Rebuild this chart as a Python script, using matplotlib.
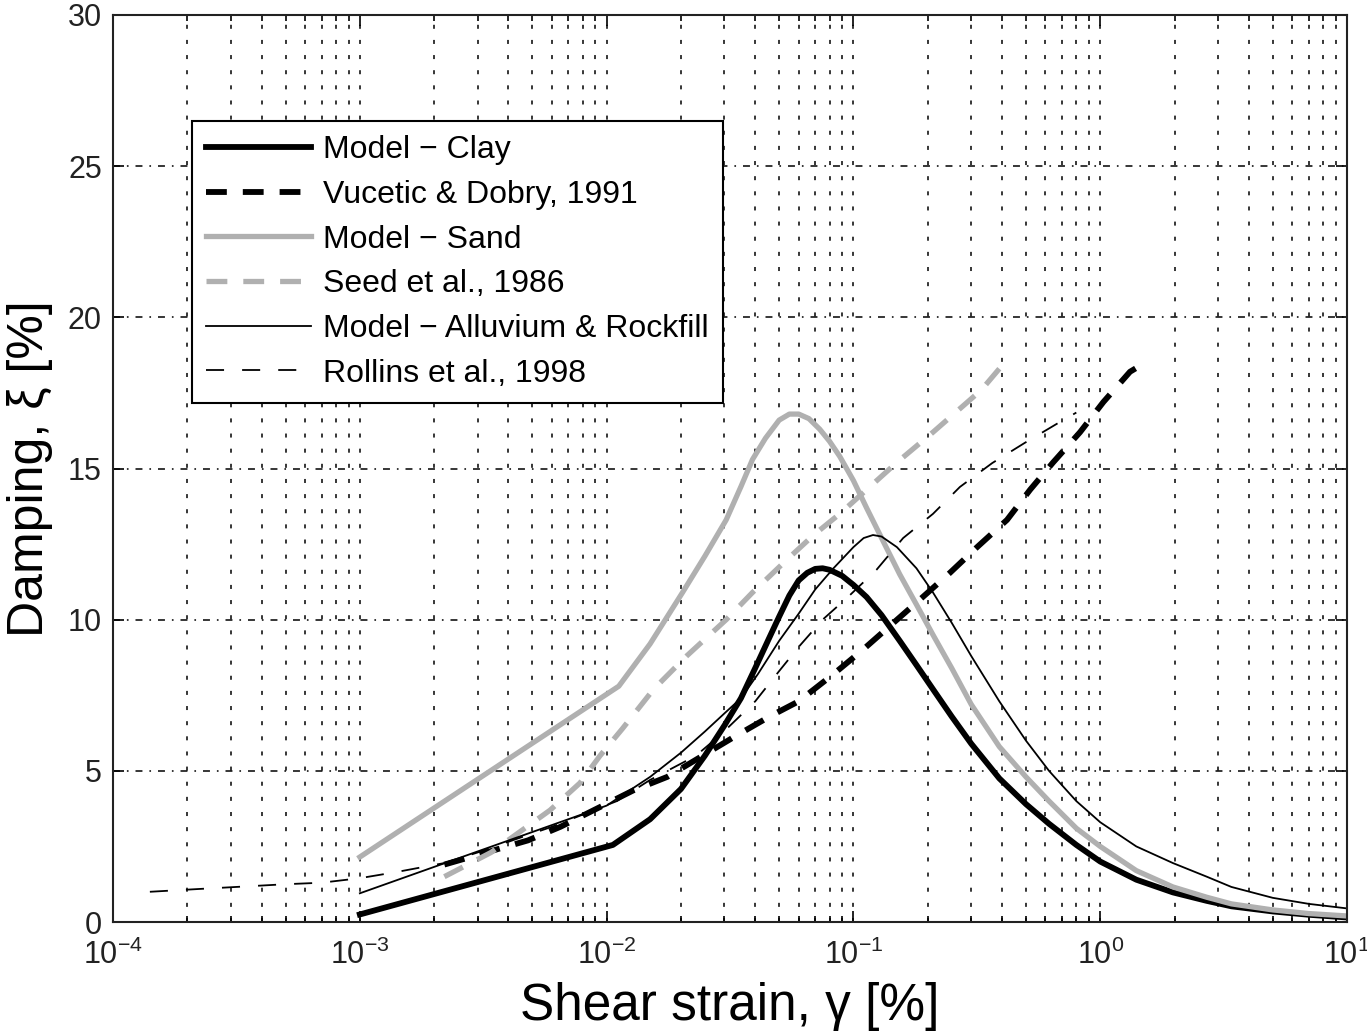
import matplotlib
matplotlib.use("Agg")
import matplotlib.pyplot as plt
from matplotlib.ticker import LogLocator, FixedLocator, NullFormatter

plt.rcParams['font.family'] = ['Liberation Sans', 'DejaVu Sans']
plt.rcParams['mathtext.fontset'] = 'custom'
plt.rcParams['mathtext.rm'] = 'Liberation Sans'
plt.rcParams['mathtext.it'] = 'Liberation Sans:italic'
plt.rcParams['lines.scale_dashes'] = False

# ---------------- data ----------------
clay_x = [0.001, 0.0106, 0.015, 0.02, 0.025, 0.03, 0.035, 0.04, 0.045, 0.05, 0.055,
          0.06, 0.065, 0.07, 0.075, 0.08, 0.09, 0.1, 0.113, 0.13, 0.154, 0.18, 0.21,
          0.25, 0.3, 0.39, 0.5, 0.62, 0.8, 1.0, 1.4, 1.97, 2.7, 3.4, 5.0, 7.0, 10.0]
clay_y = [0.25, 2.55, 3.4, 4.4, 5.5, 6.5, 7.4, 8.4, 9.3, 10.1, 10.8,
          11.3, 11.55, 11.68, 11.7, 11.65, 11.45, 11.15, 10.75, 10.15, 9.3, 8.5, 7.7,
          6.8, 5.9, 4.75, 3.9, 3.25, 2.55, 2.0, 1.4, 0.98, 0.7, 0.52, 0.35, 0.24, 0.15]

vd_x = [0.0022, 0.0048, 0.0065, 0.0128, 0.0176, 0.0325, 0.0458, 0.06, 0.083, 0.109,
        0.191, 0.246, 0.317, 0.419, 0.52, 0.644, 0.828, 1.03, 1.32, 1.45]
vd_y = [1.9, 2.7, 3.15, 4.35, 4.8, 6.1, 6.8, 7.3, 8.2, 9.0,
        10.75, 11.55, 12.4, 13.3, 14.3, 15.2, 16.2, 17.2, 18.2, 18.4]

sand_x = [0.001, 0.0112, 0.015, 0.0203, 0.025, 0.0305, 0.035, 0.039, 0.044, 0.05, 0.055,
          0.06, 0.066, 0.073, 0.08, 0.088, 0.1, 0.113, 0.13, 0.154, 0.18, 0.21, 0.25,
          0.3, 0.39, 0.5, 0.62, 0.8, 1.0, 1.4, 1.97, 2.7, 3.4, 5.0, 7.0, 10.0]
sand_y = [2.15, 7.8, 9.2, 10.9, 12.1, 13.3, 14.4, 15.3, 16.0, 16.6, 16.8,
          16.8, 16.65, 16.3, 15.9, 15.4, 14.6, 13.7, 12.7, 11.5, 10.5, 9.5, 8.4,
          7.2, 5.8, 4.8, 4.0, 3.1, 2.5, 1.7, 1.16, 0.82, 0.6, 0.4, 0.28, 0.2]

seed_x = [0.0022, 0.0034, 0.0059, 0.0078, 0.0094, 0.0116, 0.0155, 0.0211, 0.0305,
          0.039, 0.054, 0.069, 0.088, 0.15, 0.21, 0.33, 0.39]
seed_y = [1.5, 2.3, 3.7, 4.6, 5.5, 6.4, 7.7, 8.8, 10.0,
          10.9, 12.0, 12.8, 13.5, 15.2, 16.2, 17.6, 18.3]

allu_x = [0.001, 0.01, 0.015, 0.02, 0.025, 0.03, 0.035, 0.041, 0.05, 0.06, 0.07,
          0.083, 0.1, 0.11, 0.12, 0.13, 0.15, 0.18, 0.21, 0.25, 0.3, 0.39, 0.5,
          0.62, 0.8, 1.0, 1.4, 1.97, 2.7, 3.4, 5.0, 7.0, 10.0]
allu_y = [0.95, 3.85, 4.8, 5.6, 6.3, 6.9, 7.4, 8.2, 9.3, 10.2, 11.0,
          11.7, 12.4, 12.7, 12.8, 12.75, 12.4, 11.7, 10.9, 9.9, 8.8, 7.3, 6.0,
          5.0, 4.0, 3.3, 2.5, 1.95, 1.5, 1.16, 0.8, 0.6, 0.45]

roll_x = [1.41e-4, 2.2e-4, 3e-4, 5e-4, 7e-4, 0.001, 0.0014, 0.0022, 0.003, 0.0045,
          0.006, 0.011, 0.015, 0.023, 0.029, 0.04, 0.05, 0.06, 0.075, 0.095, 0.124,
          0.159, 0.21, 0.27, 0.365, 0.495, 0.674, 0.8]
roll_y = [1.0, 1.09, 1.15, 1.25, 1.3, 1.45, 1.65, 1.95, 2.3, 2.8,
          3.15, 4.0, 4.7, 5.5, 6.2, 7.3, 8.3, 9.1, 10.0, 10.75, 11.65,
          12.7, 13.5, 14.39, 15.18, 15.85, 16.5, 16.85]

labels = ["Model \u2212 Clay", "Vucetic & Dobry, 1991", "Model \u2212 Sand",
          "Seed et al., 1986", "Model \u2212 Alluvium & Rockfill", "Rollins et al., 1998"]
xtick_vals = [1e-4, 1e-3, 1e-2, 1e-1, 1e0, 1e1]
xtick_labels = [r"$10^{-4}$", r"$10^{-3}$", r"$10^{-2}$", r"$10^{-1}$", r"$10^{0}$", r"$10^{1}$"]
ytick_vals = [0, 5, 10, 15, 20, 25, 30]

# ---------------- figure ----------------
fig = plt.figure(figsize=(13.67, 10.34), dpi=100)
ax = fig.add_axes([0.0827, 0.1083, 0.9027, 0.8772])

gray = '#b0b0b0'
thick_dash = (0, (15, 11.5))
thin_dash = (0, (13, 13))

ax.plot(clay_x, clay_y, color='black', lw=4.2, label=labels[0], solid_joinstyle='round')
ax.plot(vd_x, vd_y, color='black', lw=4.2, ls=thick_dash, label=labels[1])
ax.plot(sand_x, sand_y, color=gray, lw=3.8, label=labels[2], solid_joinstyle='round')
ax.plot(seed_x, seed_y, color=gray, lw=3.8, ls=thick_dash, label=labels[3])
ax.plot(allu_x, allu_y, color='black', lw=1.3, label=labels[4], solid_joinstyle='round')
ax.plot(roll_x, roll_y, color='black', lw=1.3, ls=thin_dash, label=labels[5])

ax.set_xscale('log')
ax.set_xlim(1e-4, 1e1)
ax.set_ylim(0, 30)
ax.xaxis.set_major_locator(FixedLocator(xtick_vals))
ax.set_xticklabels(xtick_labels)
ax.xaxis.set_minor_locator(LogLocator(base=10, subs=range(2, 10), numticks=20))
ax.xaxis.set_minor_formatter(NullFormatter())
ax.set_yticks(ytick_vals)
ax.set_yticklabels([str(v) for v in ytick_vals])

ax.tick_params(which='both', direction='in', top=True, right=True, colors='black',
               labelcolor='#222222', labelsize=22, width=1.2)
ax.tick_params(which='major', length=8)
ax.tick_params(which='minor', length=4)
ax.tick_params(axis='x', which='major', pad=13)
ax.tick_params(axis='y', which='major', pad=8)

ax.grid(True, which='both', axis='x', color='black', lw=1.1, ls=(0, (2.9, 8)))
ax.grid(True, which='major', axis='y', color='black', lw=1.1, ls=(0, (5, 5, 1.2, 5)))
ax.set_axisbelow(True)

for s in ax.spines.values():
    s.set_linewidth(1.5)
    s.set_color('#222222')

ax.set_xlabel("Shear strain, \u03b3 [%]", fontsize=37, labelpad=8)
ax.set_ylabel("Damping, \u03be [%]", fontsize=36, labelpad=11)

leg = ax.legend(loc='upper left', bbox_to_anchor=(0.064, 0.883), borderaxespad=0,
                fontsize=23, handlelength=3.3, handletextpad=0.37, labelspacing=0.46,
                borderpad=0.44, fancybox=False, framealpha=1, edgecolor='black')
leg.get_frame().set_linewidth(1.5)

fig.savefig("out.png", dpi=100)
